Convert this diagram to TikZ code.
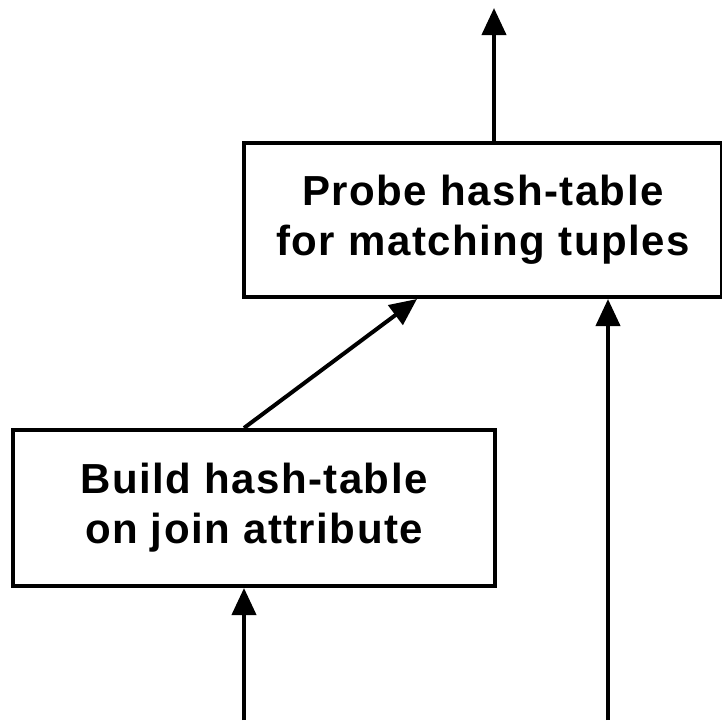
\documentclass[tikz,border=0pt]{standalone}
\usepackage{fontspec}
\setmainfont{Liberation Sans}
\newfontfamily\stagefont[LetterSpace=3.5]{Liberation Sans}
\usetikzlibrary{arrows.meta}

\tikzset{
  stagebox/.style={draw, line width=4pt, align=center, inner sep=0pt,
    font=\stagefont\fontsize{42}{50}\selectfont\bfseries},
  flow/.style={line width=4pt, -{Triangle[length=27pt,width=24pt]}}
}

\begin{document}
\begin{tikzpicture}[x=1pt,y=-1pt]
                \useasboundingbox (0,0) rectangle (722,723);
                \node[stagebox, minimum width=478pt, minimum height=154pt] (probe) at (483,220) {Probe hash-table\\for matching tuples};
                \node[stagebox, minimum width=482pt, minimum height=156pt] (build) at (254,508) {Build hash-table\\on join attribute};
                \coordinate (in1) at (244,720);
                \coordinate (in2) at (608,720);
                \coordinate (out) at (494,8);
                \draw[flow] (in1) -- (in1 |- build.south);
                \draw[flow] (in1 |- build.north) -- ([xshift=-66pt]probe.south);
                \draw[flow] (in2) -- (in2 |- probe.south);
                \draw[flow] (out |- probe.north) -- (out);
            \end{tikzpicture}
\end{document}
